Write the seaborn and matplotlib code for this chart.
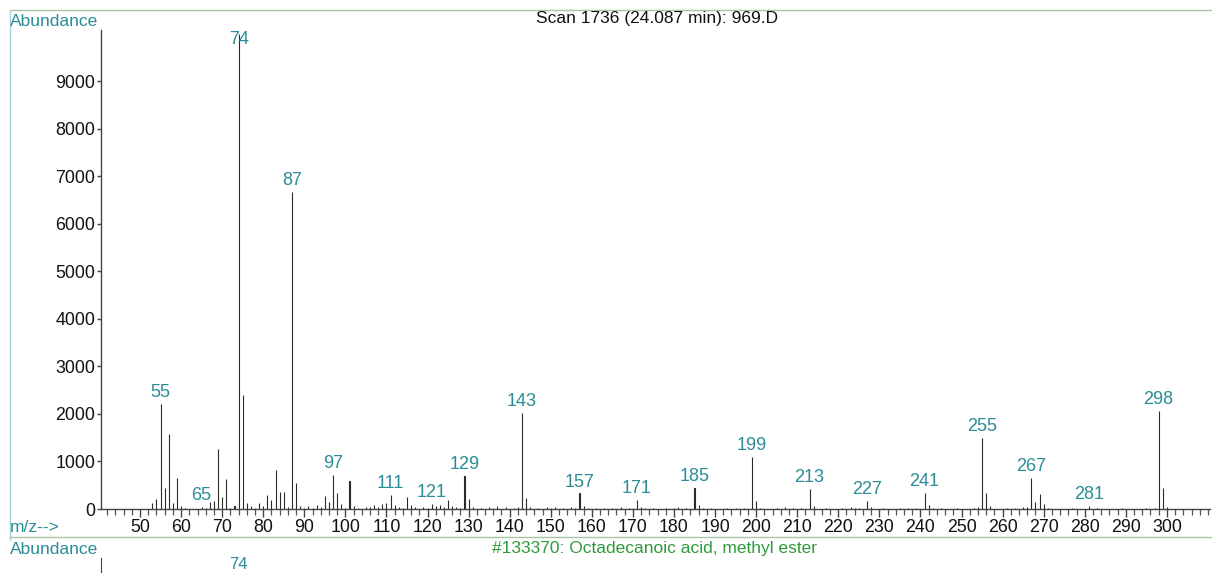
import matplotlib.pyplot as plt
from matplotlib.ticker import MultipleLocator, FixedLocator
from matplotlib.lines import Line2D
import pandas as pd
import seaborn as sns

# spectrum (m/z, abundance)
mz = [53, 54, 55, 56, 57, 58, 59, 60, 61, 65, 66, 67, 68, 69, 70, 71, 72, 73,
      74, 75, 76, 77, 78, 79, 80, 81, 82, 83, 84, 85, 86, 87, 88, 89, 90, 91,
      92, 93, 94, 95, 96, 97, 98, 99, 100, 101, 102, 103, 105, 106, 107, 108,
      109, 110, 111, 112, 113, 114, 115, 116, 117, 119, 120, 121, 122, 123,
      124, 125, 126, 127, 128, 129, 130, 131, 133, 135, 136, 137, 139, 141,
      142, 143, 144, 145, 147, 149, 150, 151, 153, 155, 156, 157, 158, 159,
      161, 163, 165, 167, 169, 170, 171, 172, 173, 175, 178, 180, 181, 183,
      185, 186, 187, 189, 193, 195, 197, 199, 200, 201, 205, 207, 209, 211,
      213, 214, 217, 221, 223, 224, 225, 227, 228, 231, 235, 237, 239, 241,
      242, 243, 245, 249, 253, 254, 255, 256, 257, 261, 263, 265, 266, 267,
      268, 269, 270, 271, 277, 281, 283, 289, 295, 297, 298, 299, 300]
abundance = [120, 200, 2210, 440, 1580, 120, 650, 60, 20, 40, 30, 150, 170, 1260,
             250, 630, 30, 60, 9990, 2400, 120, 60, 30, 120, 60, 290, 190, 820,
             360, 360, 40, 6670, 550, 60, 20, 60, 30, 80, 40, 270, 150, 710, 340,
             100, 30, 590, 60, 30, 40, 50, 80, 40, 100, 120, 290, 80, 50, 30, 250,
             90, 40, 40, 30, 100, 70, 90, 40, 190, 60, 40, 30, 690, 200, 50, 30,
             40, 30, 60, 40, 30, 40, 2020, 240, 40, 30, 40, 30, 50, 30, 40, 30,
             330, 60, 30, 20, 30, 30, 40, 30, 30, 190, 40, 20, 20, 30, 30, 40, 30,
             440, 80, 20, 20, 30, 30, 30, 1100, 170, 30, 20, 40, 20, 30, 420, 60,
             20, 30, 40, 20, 30, 170, 40, 20, 20, 30, 30, 340, 80, 20, 20, 20, 30,
             40, 1500, 340, 60, 20, 30, 40, 50, 650, 150, 320, 100, 30, 20, 70,
             20, 20, 30, 30, 2060, 440, 40]
labelled_mz = [55, 65, 74, 87, 97, 111, 121, 129, 143, 157, 171, 185, 199,
               213, 227, 241, 255, 267, 281, 298]
x_ticks = list(range(50, 301, 10))
y_ticks = list(range(0, 9001, 1000))

title = "Scan 1736 (24.087 min): 969.D"
library_hit = "#133370: Octadecanoic acid, methyl ester"

teal = "#2a8c96"
green = "#2e9a3a"
ink = "#2b2b2b"

sns.set_style("white")
plt.rcParams["font.family"] = ["Liberation Sans", "DejaVu Sans"]

W, H = 1212, 573
fig = plt.figure(figsize=(W / 100, H / 100), dpi=100)
ax = fig.add_axes([101 / W, 1 - 509 / H, (1210 - 101) / W, (509 - 30) / H])

spec = pd.DataFrame({"mz": mz, "abundance": abundance})
sns.barplot(data=spec, x="mz", y="abundance", native_scale=True, width=0.01,
            color=ink, edgecolor=ink, linewidth=0.8, saturation=1,
            errorbar=None, ax=ax)

ax.set_xlim(40.5, 310.5)
ax.set_ylim(0, 10080)
ax.set_xlabel("")
ax.set_ylabel("")
ax.xaxis.set_major_locator(FixedLocator(x_ticks))
ax.xaxis.set_minor_locator(MultipleLocator(2))
ax.set_yticks(y_ticks)
sns.despine(ax=ax)
for s in ["left", "bottom"]:
    ax.spines[s].set_color("#444444")
    ax.spines[s].set_linewidth(1.0)
ax.tick_params(axis="x", which="major", bottom=True, direction="out", length=6,
               width=1, color="#444444", labelsize=12.8, pad=1,
               labelcolor="#111111")
ax.tick_params(axis="x", which="minor", bottom=True, direction="out", length=4,
               width=0.9, color="#555555")
ax.tick_params(axis="y", which="major", left=True, direction="out", length=3,
               width=1, color="#444444", labelsize=12.8, pad=1,
               labelcolor="#111111")

lookup = dict(zip(mz, abundance))
for m in labelled_mz:
    h = min(lookup[m], 9650)
    ax.annotate(str(m), (m, h), xytext=(0, 2), textcoords="offset points",
                ha="center", va="bottom", color=teal, fontsize=13)

# frame lines of the printout
fig.add_artist(Line2D([10 / W, 1], [1 - 10 / H] * 2, transform=fig.transFigure,
                      color="#a9c7a4", lw=1))
fig.add_artist(Line2D([10 / W, 10 / W], [1 - 10 / H, 1 - 540 / H],
                      transform=fig.transFigure, color="#a8d2de", lw=1))
fig.add_artist(Line2D([10 / W, 1], [1 - 537 / H] * 2, transform=fig.transFigure,
                      color="#a9c7a4", lw=1))

fig.text(10 / W, 1 - 22 / H, "Abundance", color=teal, fontsize=12.5,
         ha="left", va="center")
fig.text(657 / W, 1 - 18 / H, title, color="#111111", fontsize=12.5,
         ha="center", va="center")
fig.text(10 / W, 1 - 528 / H, "m/z-->", color=teal, fontsize=12.5,
         ha="left", va="center")

# start of the library spectrum panel below
ax2 = fig.add_axes([101 / W, -0.3, (1210 - 101) / W, 0.3 + (1 - 558 / H)])
ax2.set_xlim(ax.get_xlim())
ax2.set_ylim(0, 1)
ax2.set_xticks([])
ax2.set_yticks([])
for s in ["top", "right", "bottom"]:
    ax2.spines[s].set_visible(False)
ax2.spines["left"].set_color("#444444")
ax2.annotate("74", (74, 1.0), xytext=(0, 1), textcoords="offset points",
             color=teal, fontsize=12, ha="center", va="top",
             annotation_clip=False)
fig.text(10 / W, 1 - 550 / H, "Abundance", color=teal, fontsize=12.5,
         ha="left", va="center")
fig.text(655 / W, 1 - 549 / H, library_hit, color=green, fontsize=12.5,
         ha="center", va="center")

fig.savefig("out.png", dpi=100)
